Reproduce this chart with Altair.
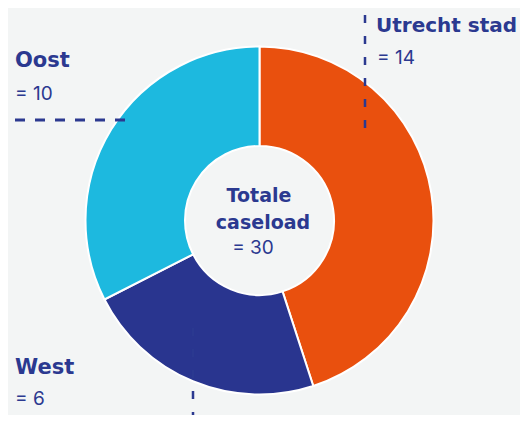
import altair as alt
import pandas as pd

regions = ["Utrecht stad", "West", "Oost"]
caseload = [14, 6, 10]
# slice sizes as drawn in the picture (measured angles, out of 30)
drawn_share = [13.5, 6.75, 9.75]
colors = ["#E9500E", "#29358F", "#1DB9DF"]
center_lines = ["Totale", "caseload"]
total = sum(caseload)

NAVY = "#2B3990"
BG = "#F3F5F5"
BOLD_FONT = "DejaVu Sans"
REG_FONT = "Inter"
OFF = 8  # page margin

df = pd.DataFrame({"region": regions, "value": drawn_share, "order": list(range(len(regions)))})

CX, CY = 259.5 - OFF, 220.5 - OFF

arc = alt.Chart(df).mark_arc(outerRadius=174, innerRadius=74.5, stroke="white", strokeWidth=2).encode(
    theta=alt.Theta("value:Q", stack=True),
    order=alt.Order("order:Q"),
    color=alt.Color("region:N", scale=alt.Scale(domain=regions, range=colors), legend=None),
    x=alt.value(CX),
    y=alt.value(CY),
)

one = alt.Chart(pd.DataFrame({"a": [0]}))


def txt(s, x, y, bold, size, align="left"):
    return one.mark_text(
        text=s, font=BOLD_FONT if bold else REG_FONT, fontSize=size,
        fontWeight="bold" if bold else "normal",
        color=NAVY, align=align, baseline="alphabetic"
    ).encode(x=alt.value(x - OFF), y=alt.value(y - OFF))


def rule(x1, y1, x2, y2, w, dash):
    return one.mark_rule(color=NAVY, strokeWidth=w, strokeDash=dash).encode(
        x=alt.value(x1 - OFF), x2=alt.value(x2 - OFF), y=alt.value(y1 - OFF), y2=alt.value(y2 - OFF)
    )


layers = [
    arc,
    rule(15, 120, 132, 120, 3, [10, 10]),
    rule(365, 15, 365, 132, 2.5, [8, 13]),
    rule(193, 328, 193, 430, 2.5, [8, 13]),
    txt(regions[2], 15, 67, True, 21),
    txt(f"= {caseload[2]}", 15, 100, False, 19),
    txt(regions[0], 376, 32, True, 20),
    txt(f"= {caseload[0]}", 377, 64, False, 19),
    txt(regions[1], 15, 374, True, 21),
    txt(f"= {caseload[1]}", 15, 405, False, 19),
    txt(center_lines[0], 259, 202, True, 19, "center"),
    txt(center_lines[1], 263, 229, True, 19, "center"),
    txt(f"= {total}", 253, 254, False, 19, "center"),
]

chart = alt.layer(*layers).properties(
    width=512, height=407, background=BG, padding=0,
    autosize=alt.AutoSizeParams(type="none"),
).configure_view(stroke=None)

chart.save("out.html", embed_options={"renderer": "svg", "actions": False})
